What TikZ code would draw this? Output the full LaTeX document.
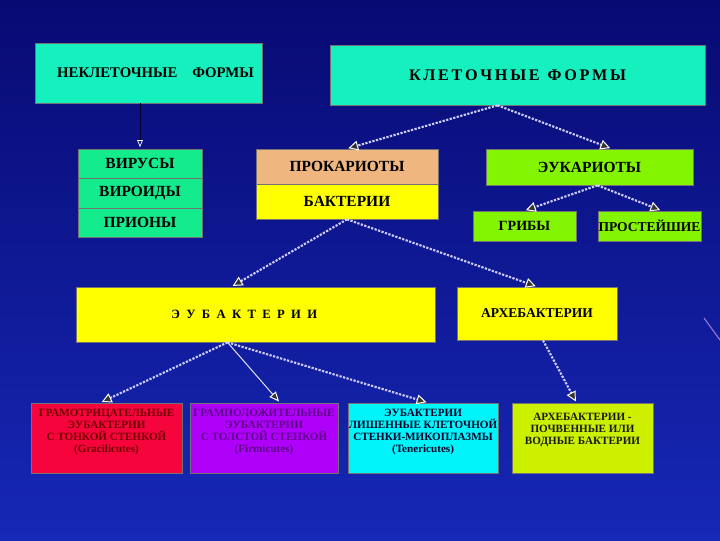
\documentclass[tikz,border=0pt]{standalone}
\usepackage{fontspec}
\setmainfont{Liberation Serif}
\usetikzlibrary{arrows.meta}

\definecolor{bgtop}{RGB}{8,10,115}
\definecolor{bgbot}{RGB}{22,40,182}
\definecolor{aqua}{RGB}{22,240,190}
\definecolor{spring}{RGB}{20,235,140}
\definecolor{tan}{RGB}{240,182,128}
\definecolor{lemon}{RGB}{255,255,0}
\definecolor{lime}{RGB}{132,245,0}
\definecolor{crimson}{RGB}{245,5,60}
\definecolor{violet}{RGB}{175,0,250}
\definecolor{aquacyan}{RGB}{0,245,250}
\definecolor{olivelime}{RGB}{205,240,0}

\begin{document}
\begin{tikzpicture}[
            x=0.025cm, y=-0.025cm,
            every node/.append style={font=\bfseries},
            box/.style args={#1x#2}{draw=black!55, line width=0.5pt,
                minimum width=#1*0.025cm, minimum height=#2*0.025cm,
                inner sep=0pt, align=center},
            smalltext/.style={font=\bfseries\fontsize{7.9}{8.6}\selectfont},
            link/.style={draw=white!80!blue, dash pattern=on 1.6pt off 1pt, line width=1.5pt,
                shorten >=1pt,
                -{Triangle[length=7pt,width=7pt,fill=black!80,line width=0.7pt,color=white]}},
            plainlink/.style={draw=white!90!blue, line width=0.7pt, shorten >=1pt,
                -{Triangle[length=7pt,width=6pt,fill=black!80,line width=0.7pt,color=white]}}
        ]
            \useasboundingbox (0,0) rectangle (720,540);
            \shade[top color=bgtop, bottom color=bgbot] (0,0) rectangle (720,540);
            \draw[white!70!violet, opacity=0.6, line width=0.8pt] (704,318) -- (720,340);

            \node[box=227x60, fill=aqua, font=\bfseries\fontsize{10.5}{12}\selectfont] (nonc) at (148.5,73)
                {\hspace{10pt}НЕКЛЕТОЧНЫЕ\ \ \ \ ФОРМЫ};
            \node[box=375x60, fill=aqua, font=\bfseries\fontsize{11.5}{13}\selectfont] (cell) at (517.5,75)
                {К\,Л\,Е\,Т\,О\,Ч\,Н\,Ы\,Е\ \ Ф\,О\,Р\,М\,Ы};

            \node[box=124x29.5, fill=spring, font=\bfseries\fontsize{11}{12}\selectfont] (vir) at (140,163.75) {ВИРУСЫ};
            \node[box=124x29.5, fill=spring, font=\bfseries\fontsize{11}{12}\selectfont] (viroid) at (140,193.25) {ВИРОИДЫ};
            \node[box=124x29.5, fill=spring, font=\bfseries\fontsize{11}{12}\selectfont] (prion) at (140,222.75) {ПРИОНЫ};

            \node[box=182x35, fill=tan, font=\bfseries\fontsize{11}{12}\selectfont] (prok) at (347,166.5) {ПРОКАРИОТЫ};
            \node[box=182x35, fill=lemon, font=\bfseries\fontsize{11}{12}\selectfont] (bact) at (347,201.5) {БАКТЕРИИ};

            \node[box=207x36, fill=lime, font=\bfseries\fontsize{11}{12}\selectfont] (euk) at (589.5,167) {ЭУКАРИОТЫ};
            \node[box=103x30, fill=lime, font=\bfseries\fontsize{10}{11}\selectfont] (fungi) at (524.5,226) {ГРИБЫ};
            \node[box=103x30, fill=lime, font=\bfseries\fontsize{9.6}{11}\selectfont] (proto) at (649.5,226) {ПРОСТЕЙШИЕ};

            \node[box=359x55, fill=lemon, font=\bfseries\fontsize{9}{10}\selectfont] (eubact) at (255.5,314.5)
                {Э\ \ У\ \ Б\ \ А\ \ К\ \ Т\ \ Е\ \ Р\ \ И\ \ И\hspace{16pt}};
            \node[box=160x53, fill=lemon, font=\bfseries\fontsize{9.6}{11}\selectfont] (archae) at (537,313.5) {АРХЕБАКТЕРИИ};

            \node[box=151x70, fill=crimson, smalltext, text=black!55!red] (gneg) at (106.5,438)
                {ГРАМОТРИЦАТЕЛЬНЫЕ\\ЭУБАКТЕРИИ\\С ТОНКОЙ СТЕНКОЙ\\(Gracilicutes)\\[2pt]\mbox{}};
            \node[box=148x70, fill=violet, smalltext, text=black!45!violet] (gpos) at (264,438)
                {ГРАМПОЛОЖИТЕЛЬНЫЕ\\ЭУБАКТЕРИИ\\С ТОЛСТОЙ СТЕНКОЙ\\(Firmicutes)\\[2pt]\mbox{}};
            \node[box=150x70, fill=aquacyan, smalltext, text=black!85!blue] (myco) at (423,438)
                {ЭУБАКТЕРИИ\\ЛИШЕННЫЕ КЛЕТОЧНОЙ\\СТЕНКИ-МИКОПЛАЗМЫ\\(Tenericutes)\\[2pt]\mbox{}};
            \node[box=141x70, fill=olivelime, smalltext, text=black!90] (arch2) at (582.5,438)
                {АРХЕБАКТЕРИИ -\\ПОЧВЕННЫЕ ИЛИ\\ВОДНЫЕ БАКТЕРИИ\\[4pt]\mbox{}};

            \draw[draw=black!80!blue, line width=0.5pt, shorten >=1pt,
                -{Triangle[open,length=5pt,width=4pt,color=white]}]
                (nonc.south -| vir.north) -- (vir.north);

            \draw[link] ([xshift=-0.5cm]cell.south) -- (prok.north);
            \draw[link] ([xshift=-0.5cm]cell.south) -- ([xshift=0.55cm]euk.north);
            \draw[link] ([xshift=0.2cm]euk.south) -- (fungi.north);
            \draw[link] ([xshift=0.2cm]euk.south) -- ([xshift=0.3cm]proto.north);
            \draw[link] (bact.south) -- ([xshift=-0.6cm]eubact.north);
            \draw[link] (bact.south) -- (archae.north);
            \draw[link] ([xshift=-0.7cm]eubact.south) -- ([xshift=-0.15cm]gneg.north);
            \draw[plainlink] ([xshift=-0.7cm]eubact.south) -- ([xshift=0.4cm]gpos.north);
            \draw[link] ([xshift=-0.7cm]eubact.south) -- ([xshift=0.12cm]myco.north);
            \draw[link] ([xshift=0.15cm]archae.south) -- ([xshift=-0.15cm]arch2.north);
        \end{tikzpicture}
\end{document}
